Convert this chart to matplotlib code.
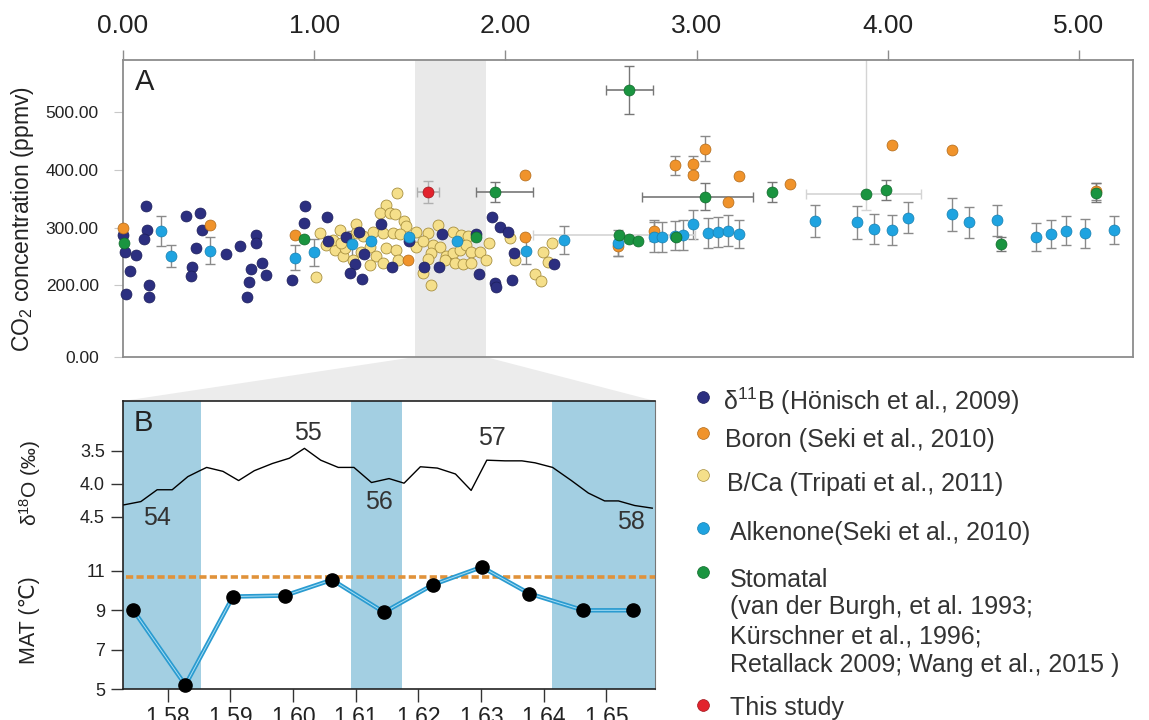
import matplotlib
matplotlib.use('Agg')
import matplotlib.pyplot as plt
import numpy as np
from matplotlib.patches import Polygon
from matplotlib.lines import Line2D

plt.rcParams['font.family'] = ['Liberation Sans', 'DejaVu Sans']
plt.rcParams['mathtext.fontset'] = 'custom'
plt.rcParams['mathtext.rm'] = 'Liberation Sans'
plt.rcParams['mathtext.it'] = 'Liberation Sans:italic'
plt.rcParams['mathtext.bf'] = 'Liberation Sans:bold'

# ---------------- data: panel A (age Ma vs CO2 ppmv) ----------------
xticks_A = [0, 1, 2, 3, 4, 5]
xtick_labels_A = ['0.00', '1.00', '2.00', '3.00', '4.00', '5.00']
yticks_A = [75.5, 200, 300, 400, 500]
ytick_labels_A = ['0.00', '200.00', '300.00', '400.00', '500.00']

navy_age = [0.000, 0.009, 0.039, 0.018, 0.066, 0.122, 0.128, 0.110, 0.136, 0.136,
            0.328, 0.405, 0.415, 0.384, 0.363, 0.358, 0.537, 0.610, 0.698, 0.698,
            0.672, 0.727, 0.750, 0.659, 0.649, 0.886, 0.950, 0.947, 1.069, 1.074,
            1.165, 1.234, 1.212, 1.189, 1.250, 1.259, 1.351, 1.409, 1.496, 1.670,
            1.573, 1.653, 1.848, 1.860, 1.930, 1.974, 2.014, 2.043, 1.944, 1.949,
            2.037, 2.253]
navy_co2 = [287, 258, 224, 184, 252, 338, 296, 280, 201, 180,
            320, 326, 296, 265, 232, 216, 254, 269, 287, 274,
            228, 238, 217, 205, 180, 209, 337, 308, 319, 277,
            284, 293, 237, 222, 211, 254, 306, 231, 277, 289,
            232, 231, 289, 220, 318, 301, 293, 256, 204, 197,
            210, 237]

yellow_age = [1.433, 1.378, 1.343, 1.395, 1.421, 1.468, 1.482, 1.217, 1.137, 1.029,
              1.008, 1.064, 1.107, 1.151, 1.160, 1.255, 1.308, 1.360, 1.412, 1.447,
              1.535, 1.595, 1.647, 1.726, 1.770, 1.804, 1.914, 1.290, 1.325, 1.378,
              1.430, 1.438, 1.290, 1.360, 1.535, 1.569, 1.621, 1.656, 1.613, 1.595,
              1.691, 1.726, 1.761, 1.796, 1.822, 1.866, 1.901, 1.683, 1.735, 1.778,
              1.822, 1.569, 1.613, 1.247, 1.203, 1.221, 1.177, 1.098, 1.142, 2.022,
              2.050, 2.197, 2.223, 2.246, 2.153, 2.185]
yellow_co2 = [361, 339, 325, 326, 323, 312, 303, 306, 296, 290,
              215, 270, 261, 251, 264, 286, 293, 290, 291, 289,
              293, 290, 305, 293, 287, 286, 274, 267, 251, 264,
              261, 244, 235, 239, 267, 276, 270, 267, 256, 245,
              250, 256, 261, 270, 258, 258, 244, 244, 238, 237,
              238, 221, 201, 258, 244, 290, 282, 279, 273, 282,
              244, 257, 241, 274, 220, 208]

orange_age = [0.000, 0.453, 0.898, 1.491, 2.103, 2.103, 2.588, 2.778, 2.885, 2.979,
              2.979, 3.043, 3.165, 3.224, 3.489, 4.020, 4.334, 5.091]
orange_co2 = [299, 305, 287, 244, 392, 284, 269, 295, 408, 411,
              392, 437, 345, 389, 375, 444, 434, 363]
orange_err = [0, 0, 0, 0, 0, 0, 18, 18, 16, 14,
              0, 22, 0, 0, 0, 0, 0, 15]

cyan_age = [0.197, 0.253, 0.453, 0.898, 0.997, 1.196, 1.297, 1.496, 1.749, 2.106,
            2.305, 2.588, 2.778, 2.821, 2.885, 2.929, 2.981, 3.062, 3.111, 3.167,
            3.224, 3.618, 3.840, 3.926, 4.020, 4.106, 4.334, 4.425, 4.571, 4.774,
            4.852, 4.935, 5.032, 5.182]
cyan_co2 = [294, 251, 260, 248, 257, 271, 276, 283, 276, 260,
            279, 273, 284, 283, 286, 287, 306, 291, 292, 295,
            289, 312, 309, 297, 296, 317, 323, 309, 313, 284,
            289, 295, 290, 296]
cyan_err = [26, 19, 23, 22, 23, 24, 0, 0, 0, 23,
            24, 23, 26, 26, 25, 26, 25, 26, 26, 27,
            25, 28, 28, 26, 26, 27, 28, 27, 27, 24,
            25, 25, 25, 25]

green_age = [0.004, 0.947, 1.848, 1.944, 2.594, 2.645, 2.645, 2.696, 2.892, 3.043,
             3.394, 3.884, 3.992, 4.590, 5.091]
green_co2 = [273, 280, 283, 362, 287, 539, 280, 277, 283, 354,
             362, 359, 365, 272, 361]
green_xerr_lo = [0, 0, 0, 0.096, 0.45, 0.118, 0, 0, 0, 0.328, 0, 0.309, 0, 0, 0]
green_xerr_hi = [0, 0, 0, 0.200, 0.40, 0.129, 0, 0, 0, 0.252, 0, 0.289, 0, 0, 0]
green_yerr_lo = [0, 0, 0, 17, 0, 41, 0, 0, 0, 23, 17, 28, 17, 12, 17]
green_yerr_hi = [0, 0, 0, 17, 0, 41, 0, 0, 0, 23, 17, 250, 17, 12, 17]
green_err_faint = [False, False, False, False, True, False, False, False, False, False,
                   False, True, False, False, False]

red_age = [1.595]
red_co2 = [362]
red_xerr = [0.059]
red_yerr = [19]

band_A = (1.526, 1.897)

# ---------------- data: panel B ----------------
xticks_B = [1.58, 1.59, 1.60, 1.61, 1.62, 1.63, 1.64, 1.65]
xtick_labels_B = ['1.58', '1.59', '1.60', '1.61', '1.62', '1.63', '1.64', '1.65']
d18o_ticks = [3.5, 4.0, 4.5]
d18o_tick_labels = ['3.5', '4.0', '4.5']
mat_ticks = [5, 7, 9, 11]
mat_tick_labels = ['5', '7', '9', '11']

d18o_age = [1.5730, 1.5757, 1.5783, 1.5807, 1.5832, 1.5851, 1.5862, 1.5888, 1.5913, 1.5938,
            1.5967, 1.5994, 1.6018, 1.6044, 1.6072, 1.6097, 1.6125, 1.6153, 1.6177, 1.6203,
            1.6230, 1.6259, 1.6284, 1.6309, 1.6338, 1.6365, 1.6386, 1.6414, 1.6444, 1.6471,
            1.6497, 1.6519, 1.6545, 1.6573]
d18o = [4.32, 4.27, 4.09, 4.09, 3.89, 3.80, 3.75, 3.81, 3.95, 3.80,
        3.69, 3.61, 3.46, 3.64, 3.75, 3.75, 3.98, 3.92, 3.99, 3.74,
        3.76, 3.85, 4.10, 3.64, 3.65, 3.65, 3.68, 3.75, 3.95, 4.14,
        4.26, 4.26, 4.33, 4.37]

mat_age = [1.5745, 1.5828, 1.5904, 1.5987, 1.6062, 1.6145, 1.6223, 1.6301, 1.6377, 1.6463, 1.6543]
mat = [9.0, 5.2, 9.7, 9.75, 10.55, 8.9, 10.3, 11.2, 9.85, 9.0, 9.0]
mat_ref = 10.68

glacial_start = [1.57285, 1.60925, 1.64137]
glacial_end = [1.58525, 1.61736, 1.65774]

mis_labels = ['54', '55', '56', '57', '58']
mis_age = [1.5783, 1.6024, 1.6137, 1.6317, 1.6539]
mis_d18o = [4.52, 3.23, 4.28, 3.30, 4.58]

legend_labels = ['δ$^{11}$B (Hönisch et al., 2009)', 'Boron (Seki et al., 2010)',
                 'B/Ca (Tripati et al., 2011)', 'Alkenone(Seki et al., 2010)',
                 'Stomatal', 'This study']
stomatal_refs = ['(van der Burgh, et al. 1993;', 'Kürschner et al., 1996;',
                 'Retallack 2009; Wang et al., 2015 )']

# ---------------- styles ----------------
C_NAVY, E_NAVY = '#2c2f80', '#1c1e5a'
C_OR, E_OR = '#f0932b', '#b06a1a'
C_YE, E_YE = '#f5df8a', '#a89040'
C_CY, E_CY = '#1fa3e0', '#1780b0'
C_GR, E_GR = '#1a9440', '#116a2c'
C_RED, E_RED = '#e2232d', '#a0151c'
TXT = '#222222'

W, H = 1149, 720
fig = plt.figure(figsize=(W / 100, H / 100), dpi=100, facecolor='white')


def axes_px(x0, y0, x1, y1):
    return fig.add_axes([x0 / W, 1 - y1 / H, (x1 - x0) / W, (y1 - y0) / H])


# ================= Panel A =================
axA = axes_px(123, 60, 1133, 357)
axA.set_xlim(0, 5.283)
axA.set_ylim(75.5, 591)
axA.axvspan(*band_A, color='#e9e9e9', lw=0, zorder=0)

S = 62
ecol = '#8a8a8a'


def errs(x, y, xlo=None, xhi=None, ylo=None, yhi=None, color=ecol, mask=None):
    x = np.asarray(x, float); y = np.asarray(y, float)
    base = np.ones(len(x), bool) if mask is None else np.asarray(mask, bool)
    if ylo is not None:
        ylo = np.asarray(ylo, float); yhi = np.asarray(yhi, float)
        m = ((ylo > 0) | (yhi > 0)) & base
        if m.any():
            axA.errorbar(x[m], y[m], yerr=[ylo[m], yhi[m]], fmt='none', ecolor=color,
                         elinewidth=1.0, capsize=3.5, capthick=1.0, zorder=2)
    if xlo is not None:
        xlo = np.asarray(xlo, float); xhi = np.asarray(xhi, float)
        m = ((xlo > 0) | (xhi > 0)) & base
        if m.any():
            axA.errorbar(x[m], y[m], xerr=[xlo[m], xhi[m]], fmt='none', ecolor=color,
                         elinewidth=1.2, capsize=3.5, capthick=1.0, zorder=2)


faint = np.asarray(green_err_faint, bool)
errs(cyan_age, cyan_co2, ylo=cyan_err, yhi=cyan_err)
errs(orange_age, orange_co2, ylo=orange_err, yhi=orange_err)
errs(green_age, green_co2, xlo=green_xerr_lo, xhi=green_xerr_hi,
     ylo=green_yerr_lo, yhi=green_yerr_hi, mask=~faint, color='#777777')
errs(green_age, green_co2, xlo=green_xerr_lo, xhi=green_xerr_hi,
     ylo=green_yerr_lo, yhi=green_yerr_hi, mask=faint, color='#d4d4d4')
errs(red_age, red_co2, xlo=red_xerr, xhi=red_xerr, ylo=red_yerr, yhi=red_yerr, color='#b0b0b0')

axA.scatter(yellow_age, yellow_co2, s=S, c=C_YE, edgecolors=E_YE, linewidths=0.6, zorder=3)
axA.scatter(navy_age, navy_co2, s=S, c=C_NAVY, edgecolors=E_NAVY, linewidths=0.5, zorder=4, clip_on=False)
axA.scatter(orange_age, orange_co2, s=S, c=C_OR, edgecolors=E_OR, linewidths=0.5, zorder=5, clip_on=False)
axA.scatter(cyan_age, cyan_co2, s=S, c=C_CY, edgecolors=E_CY, linewidths=0.5, zorder=6)
axA.scatter(green_age, green_co2, s=S, c=C_GR, edgecolors=E_GR, linewidths=0.5, zorder=7, clip_on=False)
axA.scatter(red_age, red_co2, s=S, c=C_RED, edgecolors=E_RED, linewidths=0.5, zorder=8)

axA.set_xticks(xticks_A)
axA.set_xticklabels(xtick_labels_A)
axA.set_yticks(yticks_A)
axA.set_yticklabels(ytick_labels_A)
axA.xaxis.tick_top()
axA.tick_params(axis='x', length=7.5, width=1.0, color='#8c8c8c', labelsize=19,
                pad=8, labelcolor=TXT)
axA.tick_params(axis='y', length=6.5, width=0.8, color='#c8c8c8', labelsize=12.5,
                pad=11, labelcolor=TXT)
for sp in axA.spines.values():
    sp.set_color('#8c8c8c')
    sp.set_linewidth(1.3)
axA.text((145 - 123) / 1010, 1 - (81.7 - 60) / 297, 'A', transform=axA.transAxes,
         ha='center', va='center', fontsize=21, color=TXT)

# ================= Panel B =================
axB = axes_px(123, 401, 655, 689)
axB.set_xlim(glacial_start[0], glacial_end[-1])
axB.set_ylim(5.0, 19.64)
for s, e in zip(glacial_start, glacial_end):
    axB.axvspan(s, e, color='#a3cfe2', lw=0, zorder=0)
axB.axhline(mat_ref, xmin=0.006, color='#e0923a', lw=2.6, ls=(0, (2.0, 0.9)), zorder=2)
axB.plot(mat_age, mat, color='#2a9bd0', lw=3.2, zorder=3, solid_joinstyle='round')
axB.plot(mat_age, mat, color='#a8def5', lw=0.7, zorder=3.1)
axB.plot(mat_age, mat, 'o', color='black', ms=9.5, zorder=4, clip_on=False)

axB.set_xticks(xticks_B)
axB.set_xticklabels(xtick_labels_B)
axB.set_yticks(mat_ticks)
axB.set_yticklabels(mat_tick_labels)
axB.tick_params(axis='x', length=9.5, width=1.0, color='#333333', labelsize=16.5,
                pad=3, labelcolor=TXT)
axB.tick_params(axis='y', length=9, width=1.0, color='#333333', labelsize=13,
                pad=4, labelcolor=TXT)
for name in ['left', 'top', 'bottom']:
    axB.spines[name].set_color('#222222')
    axB.spines[name].set_linewidth(1.2)
axB.spines['right'].set_color('#777777')
axB.spines['right'].set_linewidth(0.8)
axB.text((143.3 - 123) / 532, 1 - (423.3 - 401) / 288, 'B', transform=axB.transAxes,
         ha='center', va='center', fontsize=21, color=TXT)

axD = axB.twinx()
axD.set_ylim(7.123, 2.739)
axD.plot(d18o_age, d18o, color='black', lw=1.0, zorder=5)
axD.yaxis.tick_left()
axD.set_yticks(d18o_ticks)
axD.set_yticklabels(d18o_tick_labels)
axD.tick_params(axis='y', length=9, width=1.0, color='#333333', labelsize=13,
                pad=4, labelcolor=TXT)
for sp in axD.spines.values():
    sp.set_visible(False)
for lab, a, v in zip(mis_labels, mis_age, mis_d18o):
    axD.text(a, v, lab, ha='center', va='center', fontsize=18, color='#333333')

# connector between the grey band in A and panel B
inv = fig.transFigure.inverted()
p1 = axA.transData.transform((band_A[0], 75.5))
p2 = axA.transData.transform((band_A[1], 75.5))
p3 = axB.transAxes.transform((1, 1))
p4 = axB.transAxes.transform((0, 1))
poly = Polygon(inv.transform([p1, p2, p3, p4]), closed=True, transform=fig.transFigure,
               facecolor='#ececec', edgecolor='none', zorder=0)
fig.add_artist(poly)

# y labels
fig.text(23 / W, 1 - 219 / H, 'CO$_2$ concentration (ppmv)', rotation=90, ha='center',
         va='center', fontsize=16.5, color=TXT)
fig.text(30 / W, 1 - 483 / H, 'δ$^{18}$O (‰)', rotation=90, ha='center',
         va='center', fontsize=15, color=TXT)
fig.text(30 / W, 1 - 620 / H, 'MAT (℃)', rotation=90, ha='center',
         va='center', fontsize=15.5, color=TXT)

# legend
leg_cols = [(C_NAVY, E_NAVY), (C_OR, E_OR), (C_YE, E_YE), (C_CY, E_CY), (C_GR, E_GR), (C_RED, E_RED)]
leg_marker_y = [396.7, 433.3, 475, 528.3, 571.7, 705]
leg_text_y = [401.7, 440, 484, 533.3, 580, 708.3]
leg_text_x = [723, 725, 727, 730, 730, 730]
for (fc, ec), my, ty, tx, lab in zip(leg_cols, leg_marker_y, leg_text_y, leg_text_x, legend_labels):
    fig.add_artist(Line2D([703 / W], [1 - my / H], marker='o', ms=8.5, color=fc, mec=ec,
                          mew=0.5, linestyle='none', transform=fig.transFigure))
    fig.text(tx / W, 1 - ty / H, lab, ha='left', va='center', fontsize=18, color='#333333')
for ty, lab in zip([606.7, 636.7, 665], stomatal_refs):
    fig.text(730 / W, 1 - ty / H, lab, ha='left', va='center', fontsize=18, color='#333333')

fig.savefig('out.png', dpi=100, facecolor='white')
